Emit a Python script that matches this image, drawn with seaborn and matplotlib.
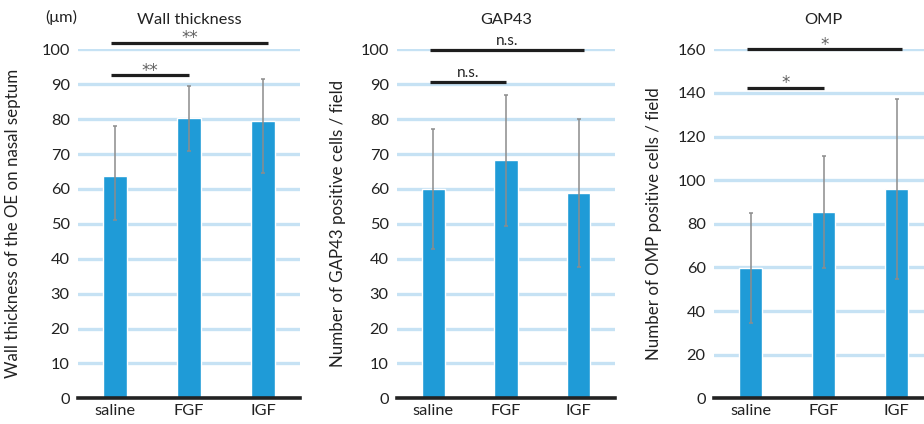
import numpy as np
import pandas as pd
import matplotlib
matplotlib.use("Agg")
import matplotlib.pyplot as plt
import seaborn as sns

# ---- data ----
groups = ["saline", "FGF", "IGF"]

wall_mean = [63.7, 80.2, 79.4]
wall_low = [51.0, 71.0, 64.6]
wall_high = [78.1, 89.4, 91.5]

gap_mean = [60.0, 68.3, 58.8]
gap_low = [42.8, 49.3, 37.6]
gap_high = [77.1, 86.8, 80.0]

omp_mean = [59.9, 85.4, 95.8]
omp_low = [34.7, 59.9, 54.6]
omp_high = [84.8, 111.2, 137.2]

titles = ["Wall thickness", "GAP43", "OMP"]
ylabels = ["Wall thickness of the OE on nasal septum",
           "Number of GAP43 positive cells / field",
           "Number of OMP positive cells / field"]
wall_ticks = list(range(0, 101, 10))
gap_ticks = list(range(0, 101, 10))
omp_ticks = list(range(0, 161, 20))

wall_sig = [("saline", "FGF", 92.6, "**"), ("saline", "IGF", 101.9, "**")]
gap_sig = [("saline", "FGF", 90.7, "n.s."), ("saline", "IGF", 99.8, "n.s.")]
omp_sig = [("saline", "FGF", 142.4, "*"), ("saline", "IGF", 160.0, "*")]

unit_label = "(μm)"

# ---- style ----
sns.set_theme(style="white")
plt.rcParams["font.family"] = ["Lato", "DejaVu Sans"]
BAR = "#1f9bd7"
GRID = "#c6e2f4"
TXT = "#222222"

fig = plt.figure(figsize=(9.24, 4.24), dpi=100)
W, H = 924, 424
positions = [(78, 222), (397, 218), (714, 219)]
bottom_px, top_px = 398.3, 49.3
label_x = [-0.257, -0.234, -0.237]

panels = [
    (wall_mean, wall_low, wall_high, wall_ticks, wall_sig),
    (gap_mean, gap_low, gap_high, gap_ticks, gap_sig),
    (omp_mean, omp_low, omp_high, omp_ticks, omp_sig),
]

for i, (mean, low, high, ticks, sig) in enumerate(panels):
    left, width = positions[i]
    ax = fig.add_axes([left / W, (H - bottom_px) / H, width / W, (bottom_px - top_px) / H])
    df = pd.DataFrame({"group": groups, "value": mean})
    sns.barplot(data=df, x="group", y="value", color=BAR, saturation=1,
                width=0.325, ax=ax, errorbar=None, zorder=2)
    m = np.array(mean)
    yerr = [m - np.array(low), np.array(high) - m]
    ax.errorbar(np.arange(len(groups)), m, yerr=yerr, fmt="none",
                ecolor="#8c8c8c", elinewidth=1.1, capsize=1.6, capthick=1.1, zorder=3)
    ax.set_xlim(-0.5, len(groups) - 0.5)
    ax.set_ylim(ticks[0], ticks[-1])
    ax.set_yticks(ticks)
    ax.yaxis.grid(True, color=GRID, lw=2.4)
    ax.xaxis.grid(False)
    ax.set_axisbelow(True)
    for s in ["left", "right", "top"]:
        ax.spines[s].set_visible(False)
    ax.spines["bottom"].set_color("#222222")
    ax.spines["bottom"].set_linewidth(2.6)
    ax.spines["bottom"].set_zorder(4)
    ax.tick_params(axis="both", length=0, labelsize=11.8, colors=TXT)
    ax.tick_params(axis="y", pad=6)
    ax.tick_params(axis="x", pad=4)
    ax.set_xlabel("")
    ax.set_ylabel(ylabels[i], fontsize=12.2, color=TXT)
    ax.yaxis.set_label_coords(label_x[i], 0.5)
    ax.set_title(titles[i], fontsize=11.8, color=TXT, pad=18)

    for (g1, g2, y, lab) in sig:
        x1 = groups.index(g1) - 0.05
        x2 = groups.index(g2) + (0.0 if groups.index(g2) - groups.index(g1) == 1 else 0.07)
        ax.plot([x1, x2], [y, y], color="#1e1e1e", lw=2.3, clip_on=False,
                solid_capstyle="butt", zorder=5)
        if "*" in lab:
            ax.annotate(lab, xy=((x1 + x2) / 2, y), xytext=(0, -0.3),
                        textcoords="offset points", ha="center", va="baseline",
                        fontsize=12, family="DejaVu Sans", color="#606060",
                        annotation_clip=False)
        else:
            ax.annotate(lab, xy=((x1 + x2) / 2, y), xytext=(0, 3.5),
                        textcoords="offset points", ha="center", va="baseline",
                        fontsize=11, color=TXT, annotation_clip=False)

fig.text(61 / W, (H - 17) / H, unit_label, ha="center", va="center",
         fontsize=11.8, color=TXT)

fig.savefig("out.png", dpi=100)
